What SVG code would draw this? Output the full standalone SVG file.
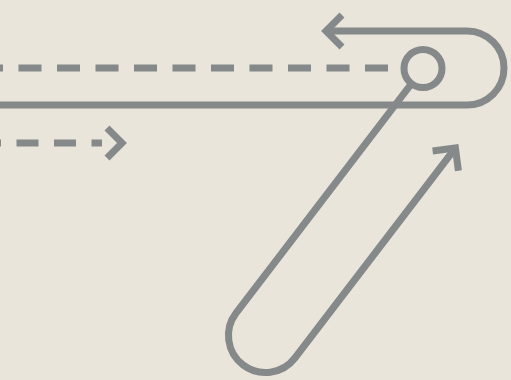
<svg xmlns="http://www.w3.org/2000/svg" width="511" height="380" viewBox="0 0 511 380">
  <style>
    .ln { fill: none; stroke: #86898a; stroke-width: 7; stroke-linecap: butt; stroke-linejoin: miter; }
    .dash1 { stroke-dasharray: 23 15.5; }
    .dash2 { stroke-dasharray: 22 15.5; }
  </style>
  <rect x="0" y="0" width="511" height="380" fill="#e9e5db"/>
  <g id="node-hub">
    <circle class="ln" cx="423" cy="68.5" r="19"/>
  </g>
  <g id="connectors">
    <path class="ln dash1" d="M 388 68 H 0"/>
    <path class="ln" d="M 0 105 H 467 A 37 37 0 0 0 467 31 H 326"/>
    <path class="ln" d="M 342 15 L 326 31 L 342 47"/>
    <path class="ln dash2" d="M -21 143 H 102"/>
    <path class="ln" d="M 107 128 L 122 143 L 107 158"/>
    <path class="ln" d="M 411.5 83.6 L 236.1 313 A 37 37 0 0 0 294.9 358 L 455.4 148"/>
    <path class="ln" d="M 432.6 151 L 455.4 148 L 458.4 170.8"/>
  </g>
</svg>
